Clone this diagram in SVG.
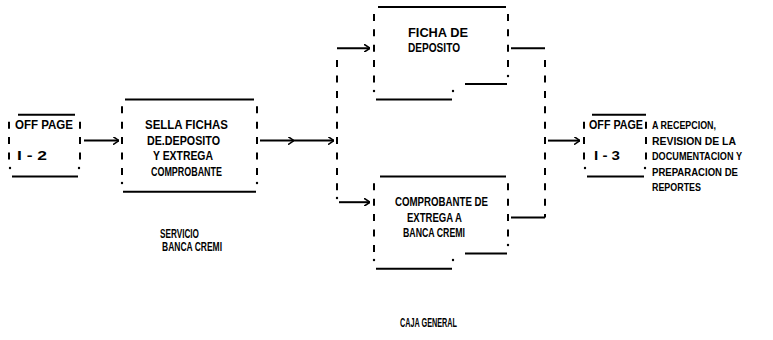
<svg xmlns="http://www.w3.org/2000/svg" width="773" height="340" viewBox="0 0 773 340">
<style>
  .t { font-family: "Liberation Sans", "DejaVu Sans", sans-serif; font-weight: bold; font-size: 12.5px; fill: #000; }
  .r { font-size: 11px; }
  .h { stroke: #000; stroke-width: 2; fill: none; }
  .v { stroke: #000; stroke-width: 2; fill: none; stroke-dasharray: 7 8.4; }
  .d { fill: #000; }
</style>
<defs>
  <marker id="ah" viewBox="0 0 6 8" refX="6" refY="4" markerWidth="6" markerHeight="8" markerUnits="userSpaceOnUse" orient="auto">
    <path d="M0,0 L6,4 L0,8" fill="none" stroke="#000" stroke-width="1.6"/>
  </marker>
</defs>
<rect width="773" height="340" fill="#fff"/>

<g id="offpage-i2">
  <line class="h" x1="18" y1="114.8" x2="75" y2="114.8"/>
  <line class="v" x1="9" y1="121.7" x2="9" y2="159.5"/>
  <line class="v" x1="80" y1="121.7" x2="80" y2="159.5"/>
  <line class="h" x1="12" y1="176.4" x2="78" y2="176.4"/>
  <circle class="d" cx="10" cy="168" r="1.2"/>
  <circle class="d" cx="79" cy="168" r="1.2"/>
  <text class="t" x="15" y="129.4" textLength="58" lengthAdjust="spacingAndGlyphs">OFF PAGE</text>
  <text class="t" x="17" y="160.2" textLength="30" lengthAdjust="spacingAndGlyphs">I - 2</text>
</g>

<g id="sella">
  <line class="h" x1="125" y1="99.4" x2="254" y2="99.4"/>
  <line class="v" x1="122" y1="106.3" x2="122" y2="175"/>
  <line class="v" x1="257" y1="106.3" x2="257" y2="175"/>
  <line class="h" x1="123" y1="191.8" x2="256" y2="191.8"/>
  <circle class="d" cx="122" cy="183" r="1.2"/>
  <circle class="d" cx="257" cy="183" r="1.2"/>
  <text class="t" x="145" y="129.4" textLength="83" lengthAdjust="spacingAndGlyphs">SELLA FICHAS</text>
  <text class="t" x="147" y="144.8" textLength="73" lengthAdjust="spacingAndGlyphs">DE.DEPOSITO</text>
  <text class="t" x="153" y="160.2" textLength="60" lengthAdjust="spacingAndGlyphs">Y EXTREGA</text>
  <text class="t" x="151" y="175.6" textLength="71" lengthAdjust="spacingAndGlyphs">COMPROBANTE</text>
</g>

<g id="servicio">
  <text class="t" x="160" y="238" textLength="39" lengthAdjust="spacingAndGlyphs">SERVICIO</text>
  <text class="t" x="162" y="251" textLength="60" lengthAdjust="spacingAndGlyphs">BANCA CREMI</text>
</g>

<g id="ficha">
  <line class="h" x1="378" y1="7" x2="506" y2="7"/>
  <line class="v" x1="374" y1="13.9" x2="374" y2="82.5"/>
  <line class="v" x1="508" y1="13.9" x2="508" y2="67.1"/>
  <line class="h" x1="465" y1="84" x2="507" y2="84"/>
  <line class="h" x1="376" y1="99.4" x2="452" y2="99.4"/>
  <circle class="d" cx="374" cy="91" r="1.2"/>
  <circle class="d" cx="453" cy="91" r="1.2"/>
  <circle class="d" cx="508" cy="76" r="1.2"/>
  <text class="t" x="408" y="37" textLength="60" lengthAdjust="spacingAndGlyphs">FICHA DE</text>
  <text class="t" x="408" y="52.4" textLength="52" lengthAdjust="spacingAndGlyphs">DEPOSITO</text>
</g>

<g id="comprobante">
  <line class="h" x1="380" y1="176.4" x2="506" y2="176.4"/>
  <line class="v" x1="374" y1="183.3" x2="374" y2="251.9"/>
  <line class="v" x1="508" y1="183.3" x2="508" y2="236.5"/>
  <line class="h" x1="465" y1="253.4" x2="507" y2="253.4"/>
  <line class="h" x1="376" y1="268.8" x2="452" y2="268.8"/>
  <circle class="d" cx="374" cy="260" r="1.2"/>
  <circle class="d" cx="453" cy="260" r="1.2"/>
  <circle class="d" cx="508" cy="245" r="1.2"/>
  <text class="t" x="395" y="206.4" textLength="93" lengthAdjust="spacingAndGlyphs">COMPROBANTE DE</text>
  <text class="t" x="407" y="221.8" textLength="55" lengthAdjust="spacingAndGlyphs">EXTREGA A</text>
  <text class="t" x="403" y="237.2" textLength="62" lengthAdjust="spacingAndGlyphs">BANCA CREMI</text>
</g>

<g id="caja">
  <text class="t" x="400" y="327" textLength="57" lengthAdjust="spacingAndGlyphs">CAJA GENERAL</text>
</g>

<g id="offpage-i3">
  <line class="h" x1="592" y1="114.8" x2="646" y2="114.8"/>
  <line class="v" x1="584" y1="121.7" x2="584" y2="159.5"/>
  <line class="v" x1="646" y1="121.7" x2="646" y2="159.5"/>
  <line class="h" x1="587" y1="176.4" x2="644" y2="176.4"/>
  <circle class="d" cx="585" cy="168" r="1.2"/>
  <circle class="d" cx="645" cy="168" r="1.2"/>
  <text class="t" x="589" y="129.4" textLength="54" lengthAdjust="spacingAndGlyphs">OFF PAGE</text>
  <text class="t" x="594" y="160.2" textLength="26" lengthAdjust="spacingAndGlyphs">I - 3</text>
  <text class="t r" x="652" y="129.4" textLength="64" lengthAdjust="spacingAndGlyphs">A RECEPCION,</text>
  <text class="t r" x="652" y="144.8" textLength="84" lengthAdjust="spacingAndGlyphs">REVISION DE LA</text>
  <text class="t r" x="652" y="160.2" textLength="90" lengthAdjust="spacingAndGlyphs">DOCUMENTACION Y</text>
  <text class="t r" x="652" y="175.6" textLength="86" lengthAdjust="spacingAndGlyphs">PREPARACION DE</text>
  <text class="t r" x="652" y="191" textLength="49" lengthAdjust="spacingAndGlyphs">REPORTES</text>
</g>

<g id="connectors">
  <line class="h" x1="84" y1="140.6" x2="119" y2="140.6" marker-end="url(#ah)"/>
  <line class="h" x1="260" y1="140.6" x2="294" y2="140.6" marker-end="url(#ah)"/>
  <line class="h" x1="294" y1="140.6" x2="334" y2="140.6" marker-end="url(#ah)"/>
  <line class="v" x1="337" y1="60.1" x2="337" y2="191"/>
  <line class="h" x1="337" y1="48.2" x2="370" y2="48.2" marker-end="url(#ah)"/>
  <line class="h" x1="339" y1="202.2" x2="370" y2="202.2" marker-end="url(#ah)"/>
  <circle class="d" cx="337" cy="198" r="1.2"/>
  <line class="h" x1="511" y1="48.2" x2="545" y2="48.2"/>
  <line class="h" x1="511" y1="217.6" x2="545" y2="217.6"/>
  <line class="v" x1="545" y1="60.1" x2="545" y2="217.6"/>
  <line class="h" x1="548" y1="140.6" x2="580" y2="140.6" marker-end="url(#ah)"/>
</g>
</svg>
